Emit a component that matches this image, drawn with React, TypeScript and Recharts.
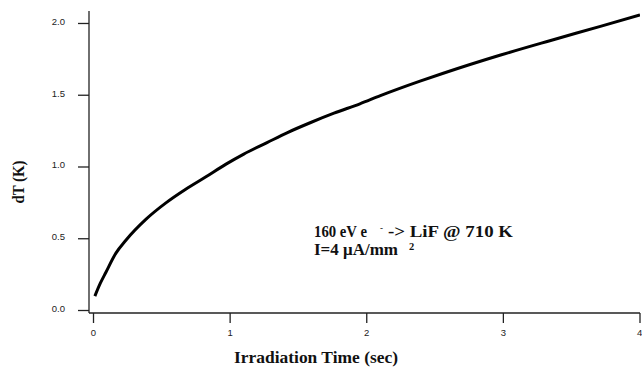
import React from "react";
import { LineChart, Line, XAxis, YAxis, Customized } from "recharts";

const timeSec = [0.01, 0.05, 0.09, 0.164, 0.237, 0.383, 0.53, 0.675, 0.82, 0.97, 1.1, 1.27, 1.42, 1.59, 1.76, 1.95, 2.1, 2.39, 2.56, 2.98, 3.34, 3.71, 4.0];
const dTK = [0.1, 0.19, 0.265, 0.4, 0.49, 0.635, 0.75, 0.845, 0.93, 1.02, 1.09, 1.17, 1.24, 1.31, 1.375, 1.44, 1.497, 1.598, 1.653, 1.78, 1.88, 1.98, 2.06];
const xTicks = [0, 1, 2, 3, 4];
const yTicks = [0, 0.5, 1.0, 1.5, 2.0];

const data = timeSec.map((t, i) => ({ t, dT: dTK[i] }));

const serif = "'Liberation Serif', 'Times New Roman', serif";
const sans = "'Liberation Sans', Arial, sans-serif";
const ink = "#111";

const Texts = () => (
  <g fontFamily={serif} fontWeight="bold" fill={ink}>
    <text
      x={18}
      y={182}
      transform="rotate(-90 18 182)"
      textAnchor="middle"
      dominantBaseline="central"
      fontSize={17}
      textLength={43}
      lengthAdjust="spacingAndGlyphs"
    >
      dT (K)
    </text>
    <text x={234} y={363} fontSize={16.5} textLength={164} lengthAdjust="spacingAndGlyphs">
      Irradiation Time (sec)
    </text>
    <text x={314} y={237} fontSize={16.5} textLength={53} lengthAdjust="spacingAndGlyphs">
      160 eV e
    </text>
    <text x={380} y={231} fontSize={9}>
      -
    </text>
    <text x={388} y={237} fontSize={16.5} textLength={125} lengthAdjust="spacingAndGlyphs">
      {"-> LiF @ 710 K"}
    </text>
    <text x={314} y={255} fontSize={16.5} textLength={84} lengthAdjust="spacingAndGlyphs">
      I=4 μA/mm
    </text>
    <text x={409} y={250} fontSize={10.5}>
      2
    </text>
  </g>
);

export default function App() {
  return (
    <div style={{ position: "absolute", left: 0, top: 0, background: "#fff" }}>
      <LineChart width={642} height={368} data={data} margin={{ top: 11, right: 2, bottom: 0, left: 0 }}>
        <XAxis
          type="number"
          dataKey="t"
          domain={[-0.033, 4]}
          ticks={xTicks}
          axisLine={{ stroke: "#222", strokeWidth: 1.3 }}
          tickSize={10}
          tickMargin={6}
          tickLine={{ stroke: "#222", strokeWidth: 1.3 }}
          tick={{ fill: "#222", fontSize: 9.5, fontFamily: sans }}
          height={55}
          allowDataOverflow
        />
        <YAxis
          type="number"
          domain={[-0.0174, 2.087]}
          ticks={yTicks}
          tickFormatter={(v: number) => v.toFixed(1)}
          width={89}
          tickSize={11}
          tickMargin={13}
          axisLine={{ stroke: "#222", strokeWidth: 1.3 }}
          tickLine={{ stroke: "#222", strokeWidth: 1.3 }}
          tick={{ fill: "#222", fontSize: 9.5, fontFamily: sans, dy: -2 }}
          allowDataOverflow
        />
        <Line
          type="monotone"
          dataKey="dT"
          stroke="#000"
          strokeWidth={3}
          dot={false}
          isAnimationActive={false}
        />
        <Customized component={Texts} />
      </LineChart>
    </div>
  );
}
